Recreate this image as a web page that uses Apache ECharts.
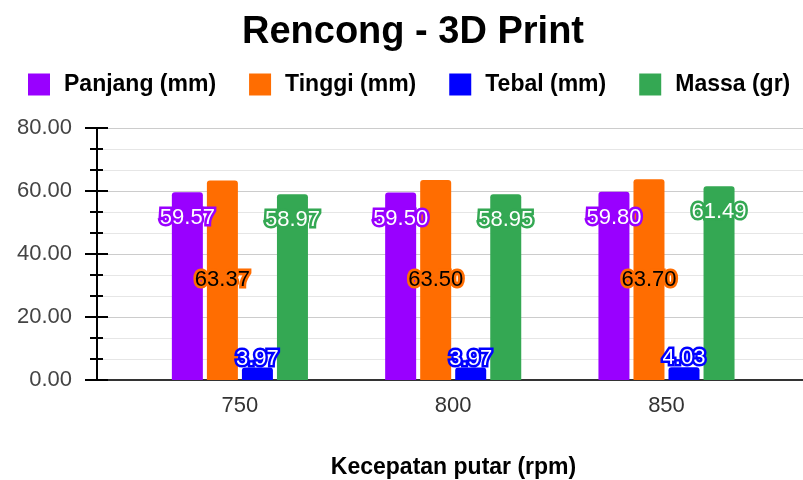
<!DOCTYPE html>
<html>
<head>
<meta charset="utf-8">
<script src="https://cdn.jsdelivr.net/npm/echarts@6/dist/echarts.min.js"></script>
<style>
  html, body { margin: 0; padding: 0; background: #fff; }
  #chart { width: 803px; height: 480px; }
</style>
</head>
<body>
<div id="chart"></div>
<script>
// Rotation speeds (rpm) on the x axis
const speeds = [750, 800, 850];

// Measured properties per speed
const panjang = [59.57, 59.50, 59.80];  // length (mm)
const tinggi  = [63.37, 63.50, 63.70];  // height (mm)
const tebal   = [3.97, 3.97, 4.03];     // thickness (mm)
const massa   = [58.97, 58.95, 61.49];  // mass (gr)

const seriesNames = ['Panjang (mm)', 'Tinggi (mm)', 'Tebal (mm)', 'Massa (gr)'];
const yTicks = [0, 20, 40, 60, 80];

const FONT = '"Liberation Sans", Arial, sans-serif';

const chart = echarts.init(document.getElementById('chart'), null, { renderer: 'canvas' });

function pairs(values) {
  return speeds.map((s, i) => [s, values[i]]);
}

function barSeries(name, values, color, labelColor, position, distance) {
  return {
    name: name,
    type: 'bar',
    barWidth: 31,
    barGap: '13%',
    itemStyle: { color: color, borderRadius: [3, 3, 0, 0] },
    data: pairs(values),
    label: {
      show: true,
      position: position,
      distance: distance,
      formatter: p => p.value[1].toFixed(2),
      fontFamily: FONT,
      fontSize: 22,
      color: labelColor,
      textBorderColor: color,
      textBorderWidth: 5
    }
  };
}

const option = {
  backgroundColor: '#ffffff',
  animation: false,
  title: {
    text: 'Rencong - 3D Print',
    left: 408,
    top: 9,
    textAlign: 'center',
    textStyle: { fontFamily: FONT, fontSize: 38, fontWeight: 'bold', color: '#000' }
  },
  legend: {
    data: seriesNames,
    left: 23,
    top: 68,
    itemWidth: 22,
    itemHeight: 22,
    itemGap: 33,
    icon: 'rect',
    textStyle: {
      fontFamily: FONT, fontSize: 23, fontWeight: 'bold', color: '#000',
      padding: [0, 0, 0, 9]
    }
  },
  grid: { left: 97, right: 0, top: 128, bottom: 100, outerBoundsMode: 'none', containLabel: false },
  xAxis: {
    type: 'value',
    min: 716.5,
    max: 882,
    name: 'Kecepatan putar (rpm)',
    nameLocation: 'middle',
    nameGap: 76,
    nameTextStyle: { fontFamily: FONT, fontSize: 23, fontWeight: 'bold', color: '#000', padding: [0, 0, 0, 7] },
    axisLine: { show: true, onZero: false, lineStyle: { color: '#333', width: 2 } },
    axisTick: { show: false },
    splitLine: { show: false },
    axisLabel: {
      customValues: speeds,
      margin: 15,
      fontFamily: FONT, fontSize: 22, color: '#333'
    }
  },
  yAxis: [
    {
      type: 'value',
      min: yTicks[0],
      max: yTicks[yTicks.length - 1],
      interval: 20,
      axisLine: { show: true, lineStyle: { color: '#000', width: 2 } },
      axisTick: { show: true, length: 12, lineStyle: { color: '#000', width: 2 } },
      minorTick: { show: true, splitNumber: 3, length: 7, lineStyle: { color: '#000', width: 2 } },
      splitLine: { show: true, lineStyle: { color: '#cccccc', width: 1 } },
      minorSplitLine: { show: true, lineStyle: { color: '#e6e6e6', width: 1 } },
      axisLabel: {
        margin: 25,
        formatter: v => v.toFixed(2),
        fontFamily: FONT, fontSize: 22, color: '#444'
      }
    },
    {
      // Inner half of the tick marks, so they cross the axis line
      type: 'value',
      position: 'left',
      min: yTicks[0],
      max: yTicks[yTicks.length - 1],
      interval: 20,
      axisLine: { show: false },
      axisTick: { show: true, inside: true, length: 11, lineStyle: { color: '#000', width: 2 } },
      minorTick: { show: true, splitNumber: 3, length: 6, lineStyle: { color: '#000', width: 2 } },
      splitLine: { show: false },
      axisLabel: { show: false }
    }
  ],
  series: [
    barSeries(seriesNames[0], panjang, '#9900ff', '#ffffff', 'insideTop', 15),
    barSeries(seriesNames[1], tinggi, '#ff6d01', '#000000', 'inside', 0),
    barSeries(seriesNames[2], tebal, '#0000ff', '#ffffff', 'top', -2),
    barSeries(seriesNames[3], massa, '#34a853', '#ffffff', 'insideTop', 15)
  ]
};

chart.setOption(option);
</script>
</body>
</html>
